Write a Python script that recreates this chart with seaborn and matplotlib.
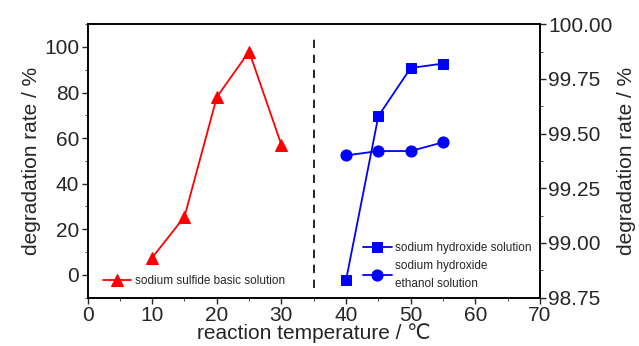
import numpy as np
import pandas as pd
import seaborn as sns
import matplotlib
matplotlib.use('Agg')
import matplotlib.pyplot as plt
from matplotlib.ticker import MultipleLocator, FormatStrFormatter

# data
temp_s = [10, 15, 20, 25, 30]
rate_s = [7.5, 25.5, 78, 98, 57]
temp_h = [40, 45, 50, 55]
rate_h = [98.83, 99.58, 99.80, 99.82]
rate_he = [99.40, 99.42, 99.42, 99.46]

sns.set_style('ticks')
plt.rcParams['font.family'] = ['Liberation Sans', 'DejaVu Sans']
plt.rcParams['xtick.direction'] = 'out'
plt.rcParams['ytick.direction'] = 'out'

fig, ax = plt.subplots(figsize=(6.39, 3.46), dpi=100)
fig.subplots_adjust(left=0.137, right=0.845, top=0.93, bottom=0.14)

df_s = pd.DataFrame({'T': temp_s, 'r': rate_s})
sns.lineplot(data=df_s, x='T', y='r', ax=ax, color='red', marker='^', markersize=9,
             markeredgecolor='red', lw=1.3, label='sodium sulfide basic solution')

ax.set_xlim(0, 70)
ax.set_ylim(-10, 110)
ax.xaxis.set_major_locator(MultipleLocator(10))
ax.xaxis.set_minor_locator(MultipleLocator(5))
ax.yaxis.set_major_locator(MultipleLocator(20))
ax.yaxis.set_minor_locator(MultipleLocator(10))
ax.tick_params(labelsize=15, width=1, length=4, pad=2)
ax.tick_params(which='minor', length=2.5)
ax.set_xlabel('reaction temperature / ℃', fontsize=15, labelpad=-1)
ax.set_ylabel('degradation rate / %', fontsize=15, labelpad=2)
ax.axvline(35, ymin=0.035, ymax=0.95, color='black', ls=(0, (5, 4)), lw=1.2)
ax.legend(loc='lower left', bbox_to_anchor=(0.01, 0.0), frameon=False, fontsize=8.5,
          handlelength=2.4, handletextpad=0.3)

ax2 = ax.twinx()
df_h = pd.DataFrame({'T': temp_h, 'a': rate_h, 'b': rate_he})
sns.lineplot(data=df_h, x='T', y='a', ax=ax2, color='blue', marker='s', markersize=7,
             markeredgecolor='blue', lw=1.3, label='sodium hydroxide solution')
sns.lineplot(data=df_h, x='T', y='b', ax=ax2, color='blue', marker='o', markersize=8,
             markeredgecolor='blue', lw=1.3, label='sodium hydroxide\nethanol solution')
ax2.set_ylim(98.75, 100.0)
ax2.yaxis.set_major_locator(MultipleLocator(0.25))
ax2.yaxis.set_minor_locator(MultipleLocator(0.125))
ax2.yaxis.set_major_formatter(FormatStrFormatter('%.2f'))
ax2.tick_params(labelsize=15, width=1, length=4, pad=2)
ax2.tick_params(which='minor', length=2.5)
ax2.set_ylabel('degradation rate / %', fontsize=15, labelpad=3)
ax2.set_xlabel('')
leg = ax2.legend(loc='lower right', bbox_to_anchor=(1.005, -0.01), frameon=False, fontsize=8.5,
                 handlelength=2.4, handletextpad=0.3, labelspacing=0.5)
for t in leg.get_texts():
    t.set_linespacing(1.6)

for a in (ax, ax2):
    for s in a.spines.values():
        s.set_linewidth(1.2)
        s.set_color('black')

fig.savefig('out.png', dpi=100)
